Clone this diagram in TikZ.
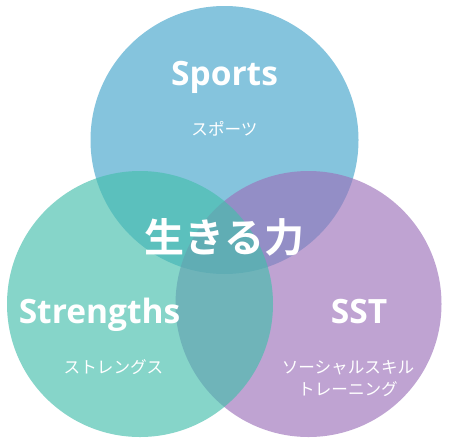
\documentclass[tikz,border=0pt]{standalone}
\usepackage{fontspec}
\setmainfont{Open Sans}
\newfontfamily\jpfont{Noto Sans CJK JP}
\newfontfamily\jpbold{Noto Sans CJK JP Bold}
\definecolor{ctop}{RGB}{67,164,203}
\definecolor{cleft}{RGB}{69,190,172}
\definecolor{cright}{RGB}{156,114,186}
\begin{document}
\begin{tikzpicture}[x=1pt,y=-1pt,
  circ/.style={fill opacity=0.65},
  title/.style={text=white,font=\fontsize{33.5}{38}\selectfont\bfseries,inner sep=0pt,anchor=base},
  sub/.style={text=white,font=\jpfont\fontsize{16.6}{22}\selectfont,inner sep=0pt,align=center},
  core/.style={text=white,font=\jpbold\fontsize{40}{44}\selectfont,inner sep=0pt}]
\useasboundingbox (0,0) rectangle (449,445);
\fill[ctop,circ] (224.5,140) circle (134);
\fill[cright,circ] (308.5,304) circle (133);
\fill[cleft,circ] (140,304) circle (133);
\node[title] (sports) at (224.5,85.5) {Sports};
\node[sub] (sportsjp) at (224.5,129) {スポーツ};
\node[title] (strengths) at (99.5,323.5) {Strengths};
\node[sub] (strengthsjp) at (113.5,367) {ストレングス};
\node[title] (sst) at (359,323.5) {SST};
\node[sub] (sstjp) at (348,378) {ソーシャルスキル\\トレーニング};
\node[core] (core) at (224.5,237.5) {生きる力};
\end{tikzpicture}
\end{document}
